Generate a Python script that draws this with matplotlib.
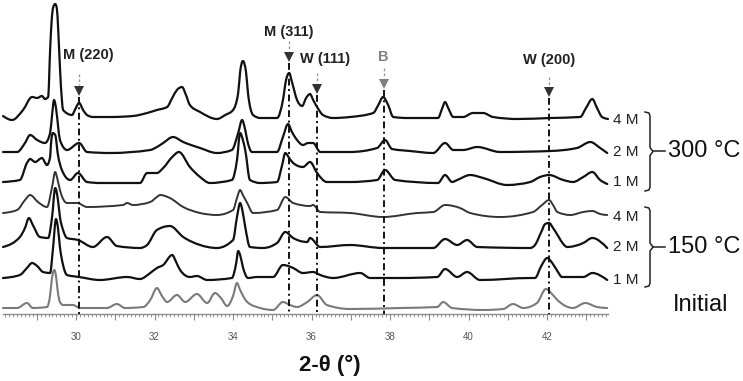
import matplotlib
matplotlib.use("Agg")
import matplotlib.pyplot as plt
from matplotlib.ticker import MultipleLocator, FuncFormatter
from matplotlib.lines import Line2D
from matplotlib.path import Path
from matplotlib.patches import PathPatch

plt.rcParams['font.family'] = ['Liberation Sans', 'DejaVu Sans']

# ---------------- data (2-theta in degrees, intensity in arbitrary units) -------------
trace_300_4M = [(28.14, 3), (28.37, -1), (28.65, 9), (28.88, 22), (29.01, 21), (29.13, 23), (29.21, 20),
                (29.29, 22), (29.34, 69), (29.38, 99), (29.42, 112), (29.47, 115), (29.51, 111), (29.55, 86),
                (29.59, 52), (29.64, 19), (29.67, 9), (29.90, 4), (29.97, 9), (30.08, 16), (30.18, 9),
                (30.28, 4), (30.43, 2), (30.87, 2), (31.45, 3), (31.81, 6), (32.06, 9), (32.32, 12),
                (32.45, 21), (32.57, 29), (32.70, 32), (32.80, 24), (32.90, 14), (33.16, 7), (33.59, 0),
                (33.80, 4), (34.00, 9), (34.13, 26), (34.18, 47), (34.25, 58), (34.33, 47), (34.38, 26),
                (34.51, 4), (34.69, 1), (35.12, 1), (35.27, 19), (35.35, 39), (35.43, 46), (35.50, 37),
                (35.63, 19), (35.76, 13), (35.86, 21), (35.96, 25), (36.04, 19), (36.14, 12), (36.29, 4),
                (36.55, 1), (36.98, 2), (37.57, 6), (37.70, 14), (37.82, 22), (37.95, 14), (38.08, 2),
                (38.43, 1), (39.22, 1), (39.33, 11), (39.40, 17), (39.48, 11), (39.61, 2), (39.86, 2),
                (40.11, 6), (40.37, 6), (40.62, 2), (41.24, 0), (42.08, 1), (42.84, 2), (42.99, 11),
                (43.15, 20), (43.27, 11), (43.40, 2), (43.55, 0)]

trace_300_2M = [(28.14, 1), (28.50, 1), (28.70, 10), (28.83, 18), (29.01, 13), (29.21, 10), (29.34, 20),
                (29.39, 38), (29.44, 53), (29.49, 45), (29.54, 28), (29.59, 13), (29.77, 3), (30.08, 10),
                (30.28, 1), (30.87, 0), (31.89, 3), (32.06, 6), (32.22, 10), (32.47, 16), (32.73, 11),
                (33.16, 5), (33.59, 0), (33.97, 3), (34.13, 20), (34.23, 33), (34.31, 23), (34.36, 13),
                (34.48, 1), (35.12, 1), (35.27, 16), (35.40, 29), (35.50, 21), (35.63, 13), (35.78, 8),
                (35.91, 10), (36.04, 10), (36.22, 1), (36.98, 1), (37.67, 5), (37.87, 13), (38.05, 4),
                (38.51, 2), (39.10, 0), (39.40, 10), (39.61, 3), (39.86, 3), (40.22, 6), (40.80, 1),
                (42.08, 2), (42.76, 5), (43.10, 11), (43.35, 5), (43.53, 0)]

trace_300_1M = [(28.14, 1), (28.57, 3), (28.75, 20), (28.83, 24), (28.96, 21), (29.13, 25), (29.26, 18),
                (29.34, 26), (29.36, 38), (29.41, 50), (29.47, 48), (29.54, 28), (29.64, 13), (29.85, 3),
                (30.05, 10), (30.28, 1), (30.61, 0), (31.63, 0), (31.81, 10), (32.06, 10), (32.22, 15),
                (32.45, 26), (32.62, 31), (32.90, 16), (33.16, 6), (33.41, 0), (33.97, 3), (34.10, 23),
                (34.18, 50), (34.25, 43), (34.31, 33), (34.43, 3), (34.69, 0), (35.12, 1), (35.25, 18),
                (35.33, 30), (35.43, 25), (35.53, 20), (35.78, 16), (35.96, 21), (36.14, 10), (36.39, 1),
                (36.98, 1), (37.67, 3), (37.87, 13), (38.13, 3), (39.22, 0), (39.40, 8), (39.58, 1),
                (39.71, 3), (40.04, 8), (40.37, 5), (40.98, -2), (41.57, 1), (41.82, 6), (42.05, 8),
                (42.41, 3), (42.66, 1), (42.92, 6), (43.15, 11), (43.35, 3), (43.53, -1)]

trace_150_4M = [(28.14, 2), (28.50, 5), (28.70, 15), (28.83, 20), (29.03, 13), (29.26, 8), (29.39, 28),
                (29.47, 43), (29.52, 37), (29.59, 25), (29.77, 12), (30.03, 12), (30.28, 8), (31.20, 10),
                (31.30, 12), (31.45, 10), (31.89, 13), (32.06, 18), (32.14, 20), (32.39, 17), (32.73, 8),
                (33.16, 2), (33.59, 0), (34.00, 5), (34.10, 17), (34.18, 25), (34.25, 20), (34.36, 12),
                (34.51, 2), (35.12, 5), (35.33, 18), (35.53, 12), (35.96, 9), (36.04, 10), (36.22, 3),
                (36.98, 2), (37.82, -2), (38.69, 2), (39.10, 3), (39.40, 10), (39.78, 7), (40.04, 2),
                (40.80, -2), (41.64, 3), (41.87, 10), (42.05, 15), (42.15, 10), (42.26, 3), (42.59, 0),
                (42.92, 3), (43.15, 4), (43.35, 1), (43.53, 0)]

trace_150_2M = [(28.14, 1), (28.57, 11), (28.70, 20), (28.80, 30), (28.90, 23), (29.08, 11), (29.29, 10),
                (29.39, 31), (29.47, 60), (29.54, 48), (29.59, 31), (29.67, 18), (29.77, 10), (30.05, 8),
                (30.43, 1), (30.79, 11), (31.04, 2), (31.63, 0), (31.81, 3), (32.06, 18), (32.39, 22),
                (32.73, 11), (33.16, 3), (33.59, 0), (34.00, 8), (34.10, 31), (34.18, 45), (34.25, 35),
                (34.31, 21), (34.43, 1), (34.76, 0), (35.12, 5), (35.33, 16), (35.53, 10), (35.89, 6),
                (35.96, 10), (36.22, 1), (36.98, 3), (37.82, 0), (39.10, 0), (39.40, 9), (39.71, 3),
                (39.96, 8), (40.22, 1), (41.57, 0), (41.69, 3), (41.85, 16), (41.95, 24), (42.05, 25),
                (42.15, 20), (42.28, 12), (42.41, 4), (42.51, 1), (42.92, 5), (43.15, 10), (43.53, 0)]

trace_150_1M = [(28.14, 2), (28.57, 5), (28.75, 12), (28.88, 17), (29.01, 14), (29.16, 8), (29.34, 7),
                (29.41, 30), (29.49, 61), (29.54, 52), (29.59, 33), (29.67, 15), (29.77, 5), (30.08, 3),
                (30.61, 0), (31.30, 3), (31.63, 1), (31.89, 7), (32.06, 12), (32.22, 15), (32.45, 25),
                (32.55, 18), (32.65, 10), (32.90, 3), (33.08, 4), (33.34, 0), (33.97, 2), (34.08, 17),
                (34.13, 29), (34.18, 25), (34.25, 13), (34.38, 2), (34.61, 3), (35.02, 3), (35.27, 15),
                (35.40, 14), (35.53, 12), (35.78, 7), (36.04, 8), (36.22, 5), (36.55, 2), (37.24, 7),
                (37.49, 2), (38.25, 2), (39.20, 3), (39.40, 11), (39.71, 3), (39.96, 8), (40.29, 0),
                (41.57, 2), (41.69, 2), (41.85, 14), (42.00, 22), (42.13, 17), (42.26, 9), (42.38, 3),
                (42.51, 3), (42.92, 3), (43.15, 7), (43.53, 0)]

trace_initial = [(28.14, 2), (28.50, 2), (28.75, 7), (28.90, 2), (29.26, 3), (29.34, 15), (29.36, 22),
                 (29.41, 37), (29.45, 40), (29.49, 34), (29.54, 17), (29.59, 8), (29.67, 5), (29.92, 5),
                 (30.10, 2), (30.79, 2), (31.04, 6), (31.25, 2), (31.71, 3), (31.89, 10), (32.06, 22),
                 (32.19, 14), (32.32, 8), (32.57, 15), (32.78, 8), (33.08, 16), (33.34, 7), (33.54, 17),
                 (33.69, 12), (33.85, 4), (34.00, 14), (34.10, 27), (34.18, 20), (34.36, 8), (34.69, 2),
                 (35.02, 0), (35.27, 8), (35.45, 5), (35.63, 3), (35.89, 8), (36.14, 15), (36.39, 5),
                 (36.98, 1), (38.25, 2), (39.20, 3), (39.35, 8), (39.58, 2), (40.37, 0), (40.88, 1),
                 (41.13, 6), (41.39, 2), (41.74, 7), (41.97, 21), (42.10, 17), (42.26, 10), (42.66, 2),
                 (42.97, 7), (43.27, 3), (43.53, 2)]

sample_labels = ["4 M", "2 M", "1 M", "4 M", "2 M", "1 M"]
group_labels = ["300 °C", "150 °C"]
initial_label = "Initial"

peak_labels = ["M (220)", "M (311)", "W (111)", "B", "W (200)"]
peak_positions = [30.08, 35.43, 36.15, 37.84, 42.05]

xlabel = "2-θ (°)"
tick_values = [30, 32, 34, 36, 38, 40, 42]

# ---------------- layout helpers (pixel based) ----------------
W, H = 743, 381
fig = plt.figure(figsize=(W / 100, H / 100), dpi=100)

def fx(px):
    return px / W

def fy(py):
    return 1 - py / H

ax_left, ax_right, ax_top, ax_bottom = 3, 608, 0, 314
ax = fig.add_axes([fx(ax_left), fy(ax_bottom), (ax_right - ax_left) / W, (ax_bottom - ax_top) / H])
ax.set_xlim(28.14, 43.55)
ax.set_ylim(0, ax_bottom - ax_top)


def sign(v):
    return (v > 0) - (v < 0)


def smooth_path(xs, ys):
    """Monotone-x cubic rendering through the read points (like d3.curveMonotoneX)."""
    n = len(xs)
    t = [0.0] * n
    for i in range(1, n - 1):
        h0 = xs[i] - xs[i - 1]
        h1 = xs[i + 1] - xs[i]
        s0 = (ys[i] - ys[i - 1]) / h0
        s1 = (ys[i + 1] - ys[i]) / h1
        p = (s0 * h1 + s1 * h0) / (h0 + h1)
        t[i] = (sign(s0) + sign(s1)) * min(abs(s0), abs(s1), 0.5 * abs(p))
    h = xs[1] - xs[0]
    t[0] = (3 * (ys[1] - ys[0]) / h - t[1]) / 2
    h = xs[-1] - xs[-2]
    t[-1] = (3 * (ys[-1] - ys[-2]) / h - t[-2]) / 2
    verts = [(xs[0], ys[0])]
    codes = [Path.MOVETO]
    for i in range(n - 1):
        dx = (xs[i + 1] - xs[i]) / 3
        verts += [(xs[i] + dx, ys[i] + dx * t[i]),
                  (xs[i + 1] - dx, ys[i + 1] - dx * t[i + 1]),
                  (xs[i + 1], ys[i + 1])]
        codes += [Path.CURVE4] * 3
    return Path(verts, codes)


# vertical offsets of stacked traces (axis units = pixels)
stack = [
    (trace_300_4M, 195, "#111111", 1.6),
    (trace_300_2M, 161, "#111111", 1.6),
    (trace_300_1M, 131, "#111111", 1.6),
    (trace_150_4M, 99, "#333333", 1.4),
    (trace_150_2M, 66, "#111111", 1.6),
    (trace_150_1M, 34, "#111111", 1.6),
    (trace_initial, 4, "#7a7a7a", 1.5),
]
for tr, off, col, lw in stack:
    xs = [p[0] for p in tr]
    ys = [p[1] + off for p in tr]
    patch = PathPatch(smooth_path(xs, ys), facecolor='none', edgecolor=col, lw=lw,
                      joinstyle='round', capstyle='round', zorder=3, clip_on=False)
    ax.add_patch(patch)

# annotations: (text center x px, text y px, stem top, stem bottom, arrow tip y, color)
ann_geom = [
    (88, 55, 74, 85, 94, "#222222"),
    (289, 32, 41, 51, 60, "#222222"),
    (325, 59, 73, 83, 92, "#222222"),
    (383, 57, 68, 78, 87, "#808080"),
    (549, 60, 77, 86, 95, "#222222"),
]
for lab, xpos, (tx, ty, s0, s1, tip, col) in zip(peak_labels, peak_positions, ann_geom):
    fig.text(fx(tx), fy(ty), lab, ha='center', va='center', fontsize=10.5,
             fontweight='bold', color=col)
    yb = ax_bottom
    ax.plot([xpos, xpos], [yb - s0, yb - s1], color="#999999", lw=1.0, ls=(0, (2, 1.5)),
            clip_on=False, zorder=4)
    ax.plot([xpos], [yb - tip + 3.5], marker='v', markersize=6.5,
            color=col if col != "#222222" else "#333333",
            markeredgewidth=0, clip_on=False, zorder=5)
    ax.plot([xpos, xpos], [yb - tip - 3, 0], color="#111111", lw=1.4,
            ls=(0, (3.5, 1.8, 1, 1.8)), clip_on=False, zorder=4)

# axes styling
for s in ['left', 'right', 'top']:
    ax.spines[s].set_visible(False)
ax.spines['bottom'].set_color("#8a8a8a")
ax.spines['bottom'].set_linewidth(1.0)
ax.set_yticks([])
ax.xaxis.set_major_locator(MultipleLocator(1))
ax.xaxis.set_minor_locator(MultipleLocator(0.1))
ax.xaxis.set_major_formatter(FuncFormatter(
    lambda v, p: f"{int(round(v))}" if int(round(v)) in tick_values else ""))
ax.tick_params(axis='x', which='major', length=4.5, width=0.8, color="#8a8a8a",
               labelsize=7, labelcolor="#555555", pad=8.5)
ax.tick_params(axis='x', which='minor', length=2.3, width=0.6, color="#8a8a8a")

fig.text(fx(330), fy(365), xlabel, ha='center', va='center', fontsize=16, fontweight='bold',
         color="#111111")

# right-hand sample labels
label_y = [120, 152, 182, 217, 247, 280]
for lab, ly in zip(sample_labels, label_y):
    fig.text(fx(613), fy(ly), lab, ha='left', va='center', fontsize=11, color="#222222")

# braces
def brace(y_top, y_bot):
    ym = (y_top + y_bot) / 2
    xs = [645, 649, 650, 650, 653, 650, 650, 649, 645]
    ys = [y_top, y_top + 1, y_top + 4, ym - 4, ym, ym + 4, y_bot - 4, y_bot - 1, y_bot]
    fig.add_artist(Line2D([fx(x) for x in xs], [fy(y) for y in ys], color="#222222", lw=1.1))
    fig.add_artist(Line2D([fx(653), fx(665)], [fy(ym), fy(ym)], color="#222222", lw=1.1))
    return ym

for glab, (yt, ybt) in zip(group_labels, [(112, 191), (207, 287)]):
    ym = brace(yt, ybt)
    fig.text(fx(668), fy(ym), glab, ha='left', va='center', fontsize=17, color="#111111")

fig.text(fx(673), fy(305), initial_label, ha='left', va='center', fontsize=17, color="#111111")

fig.savefig("out.png", dpi=100)
